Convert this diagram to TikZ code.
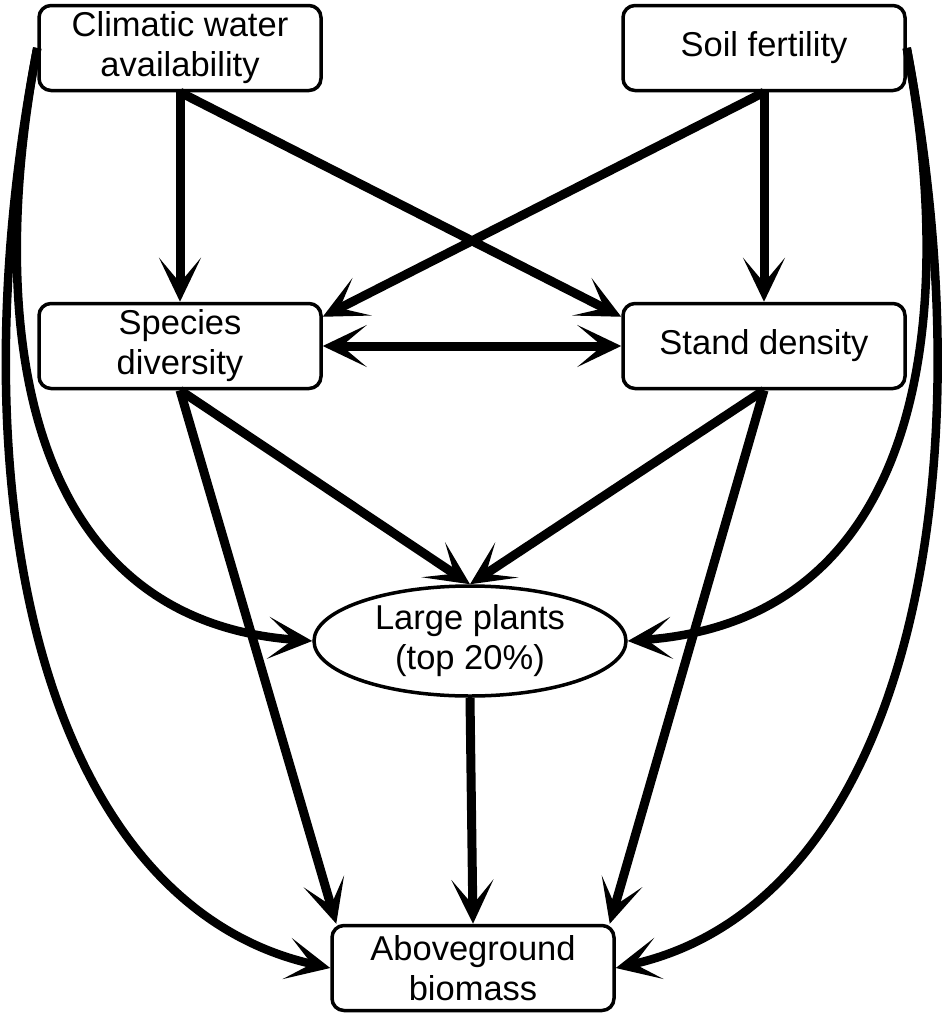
\documentclass[tikz,border=0pt]{standalone}
\usepackage{fontspec}
\setmainfont{Liberation Sans}
\usetikzlibrary{arrows.meta,shapes.geometric,calc}
\begin{document}
\begin{tikzpicture}[x=1pt,y=-1pt,
  lbl/.style={font=\fontsize{34.5}{40}\selectfont,align=center,inner sep=0pt},
  box/.style={lbl,draw,line width=3.5pt,rounded corners=12pt,minimum width=282pt,minimum height=85pt},
  ell/.style={lbl,draw,ellipse,line width=3.5pt,minimum width=312pt,minimum height=110pt},
  conn/.style={line width=9pt,-{Stealth[length=44pt,width=42pt,inset=25pt]}},
  both/.style={line width=9pt,{Stealth[length=44pt,width=42pt,inset=25pt]}-{Stealth[length=44pt,width=42pt,inset=25pt]}},
  curve/.style={line width=8.5pt,-{Stealth[length=44pt,width=42pt,inset=25pt]}},
]
\useasboundingbox (0,0) rectangle (945,1018);

\node[box] (clim) at (180,48) {Climatic water\\availability};
\node[box] (soil) at (764,48) {Soil fertility};
\node[box] (spec) at (180,346) {Species\\diversity};
\node[box] (stand) at (764,346) {Stand density};
\node[ell] (large) at (470,641) {Large plants\\(top 20\%)};
\node[box] (agb) at (473,968) {Aboveground\\biomass};

\coordinate (standL) at ($(stand.north west)+(0,15)$);
\coordinate (specR) at ($(spec.north east)+(0,15)$);
\coordinate (agbL) at ($(agb.north west)+(6,0)$);
\coordinate (agbR) at ($(agb.north east)+(-6,0)$);

\draw[conn] (clim.south) -- (spec.north);
\draw[conn] (clim.south) -- (standL);
\draw[conn] (soil.south) -- (stand.north);
\draw[conn] (soil.south) -- (specR);
\draw[both] (spec.east) -- (stand.west);
\draw[conn] (spec.south) -- (large.north);
\draw[conn] (stand.south) -- (large.north);
\draw[conn] (spec.south) -- (agbL);
\draw[conn] (stand.south) -- (agbR);
\draw[conn] (large.south) -- (agb.north);

\draw[curve] (clim.west) .. controls (-15,320) and (20,620) .. (large.west);
\draw[curve] (clim.west) .. controls (-50,500) and (45,905) .. (agb.west);
\draw[curve] (soil.east) .. controls (958,320) and (923,620) .. (large.east);
\draw[curve] (soil.east) .. controls (993,500) and (898,905) .. (agb.east);
\end{tikzpicture}
\end{document}
